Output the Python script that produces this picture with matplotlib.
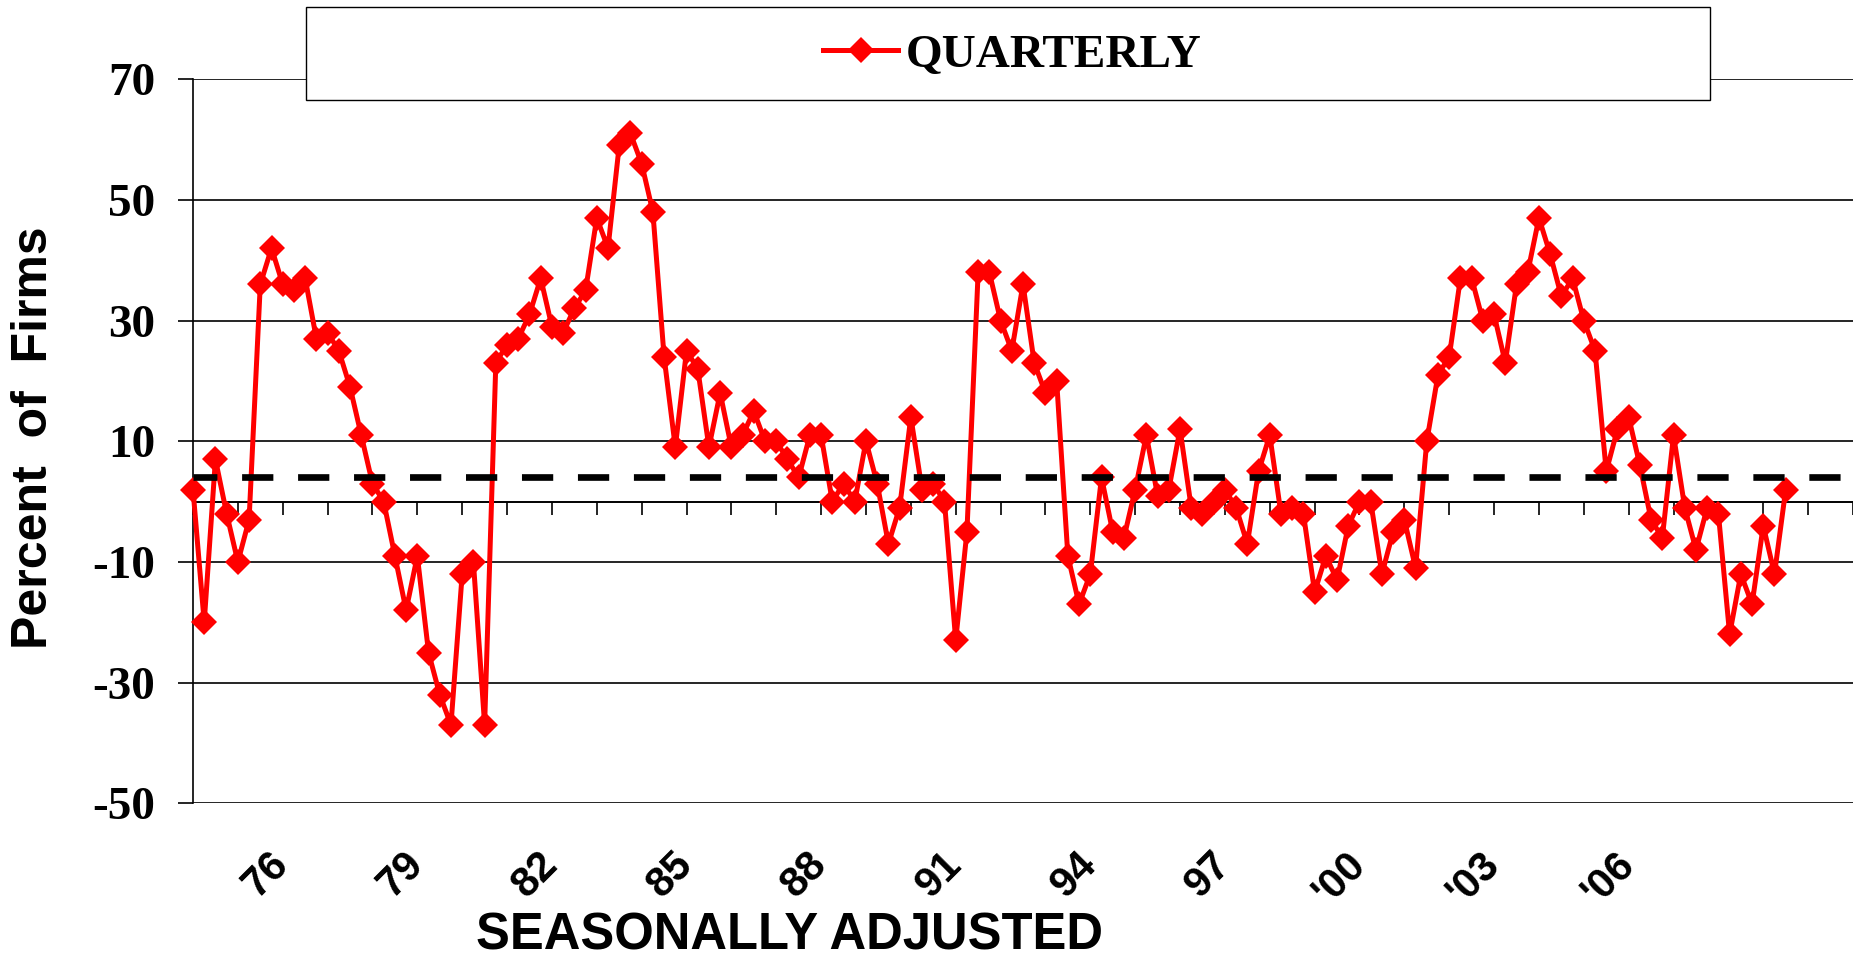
import numpy as np
import matplotlib
matplotlib.use("Agg")
import matplotlib.pyplot as plt
from matplotlib.patches import Rectangle
from matplotlib.transforms import blended_transform_factory

# quarterly series, first value is 1974 Q1
START_YEAR = 1974
END_YEAR = 2011
QUARTERLY = [
    2, -20, 7, -2, -10, -3, 36, 42, 36, 35, 37, 27, 28, 25, 19, 11,
    3, 0, -9, -18, -9, -25, -32, -37, -12, -10, -37, 23, 26, 27, 31, 37,
    29, 28, 32, 35, 47, 42, 59, 61, 56, 48, 24, 9, 25, 22, 9, 18,
    9, 11, 15, 10, 10, 7, 4, 11, 11, 0, 3, 0, 10, 3, -7, -1,
    14, 2, 3, 0, -23, -5, 38, 38, 30, 25, 36, 23, 18, 20, -9, -17,
    -12, 4, -5, -6, 2, 11, 1, 2, 12, -1, -2, 0, 2, -1, -7, 5,
    11, -2, -1, -2, -15, -9, -13, -4, 0, 0, -12, -5, -3, -11, 10, 21,
    24, 37, 37, 30, 31, 23, 36, 38, 47, 41, 34, 37, 30, 25, 5, 12,
    14, 6, -3, -6, 11, -1, -8, -1, -2, -22, -12, -17, -4, -12, 2,
]
AVERAGE = 4
Y_TICKS = [-50, -30, -10, 10, 30, 50, 70]
LABEL_YEARS = [1976, 1979, 1982, 1985, 1988, 1991, 1994, 1997, 2000, 2003, 2006]
LABEL_TEXT = ["76", "79", "82", "85", "88", "91", "94", "97", "'00", "'03", "'06"]

plt.rcParams['lines.scale_dashes'] = False
plt.rcParams['axes.unicode_minus'] = False
SANS = ['Liberation Sans', 'DejaVu Sans']
SERIF = ['Liberation Serif', 'DejaVu Serif']

W, H = 1853, 959
fig = plt.figure(figsize=(W / 100, H / 100), dpi=100)
ax = fig.add_axes([193 / W, (H - 803.4) / H, 1 - 193 / W, 724.3 / H])

x = START_YEAR + np.arange(len(QUARTERLY)) / 4
line, = ax.plot(x, QUARTERLY, color='#ff0000', lw=3.6, marker='D', ms=13.5,
                mew=0, zorder=3, clip_on=False, label='QUARTERLY')
ax.axhline(AVERAGE, color='black', lw=4.8, linestyle=(5.3, (22.5, 17.8)), zorder=4)

ax.set_xlim(START_YEAR, END_YEAR)
ax.set_ylim(-50, 70)
ax.set_yticks(Y_TICKS)
ax.set_xticks(np.arange(START_YEAR, END_YEAR + 1))

# category axis crosses at zero, labels stay at the bottom
ax.spines['bottom'].set_position(('data', 0))
ax.spines['bottom'].set_linewidth(1.4)
ax.spines['left'].set_linewidth(1.2)
ax.spines['top'].set_visible(False)
ax.spines['right'].set_visible(False)
ax.tick_params(axis='x', direction='out', length=9.6, width=1.2, labelbottom=False)
ax.tick_params(axis='y', direction='out', length=10.8, width=1.2, pad=16.5)
for lbl in ax.get_yticklabels():
    lbl.set_fontfamily(SERIF)
    lbl.set_fontweight('bold')
    lbl.set_fontsize(34)
ax.grid(axis='y', color='black', lw=1.2)
ax.set_axisbelow(True)

trans = blended_transform_factory(ax.transData, ax.transAxes)
for yr, t in zip(LABEL_YEARS, LABEL_TEXT):
    ax.text(yr - 0.32, -0.057, t, transform=trans, rotation=45, ha='right', va='top',
            rotation_mode='anchor', fontsize=30, fontweight='bold', family=SANS)

fig.text(34 / W, (H - 438) / H, 'Percent  of  Firms', rotation=90, ha='center',
         va='center', fontsize=36, fontweight='bold', family=SANS)
fig.text(790 / W, 10 / H, 'SEASONALLY ADJUSTED', ha='center', va='baseline',
         fontsize=36.5, fontweight='bold', family=SANS)

# legend box
box = Rectangle((305.7 / W, (H - 100) / H), (1710 - 305.7) / W, 93.3 / H,
                transform=fig.transFigure, facecolor='white', edgecolor='black',
                lw=1.0, zorder=5)
fig.patches.append(box)
leg = fig.legend(handles=[line], loc='center', bbox_to_anchor=(1012 / W, (H - 55) / H),
                 frameon=False, handlelength=1.6, handletextpad=0.15,
                 prop={'family': SERIF, 'weight': 'bold', 'size': 34})
leg.set_zorder(6)

fig.savefig('out.png', dpi=100)
